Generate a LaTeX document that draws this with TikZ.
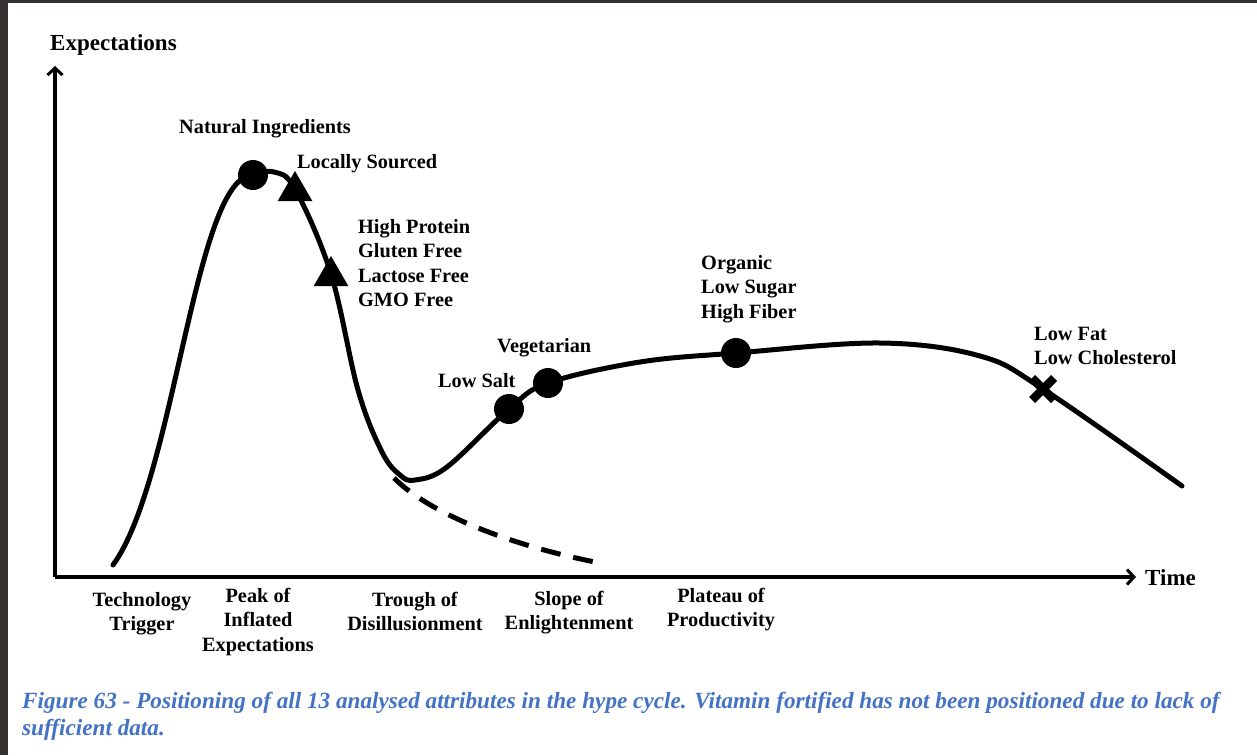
\documentclass[tikz,border=0pt]{standalone}
\usepackage{fontspec}
\setmainfont{Liberation Serif}
\usetikzlibrary{arrows.meta,shapes.geometric}
\definecolor{captionblue}{RGB}{68,114,196}
\definecolor{edge}{RGB}{52,48,48}
\tikzset{
  axisline/.style={line width=3.5pt, -{Straight Barb[length=7pt,width=15pt,line width=3pt]}},
  hype/.style={line width=5pt, line cap=round, line join=round},
  fallback/.style={line width=5pt, dash pattern=on 20pt off 13pt},
  dotmark/.style={circle, fill=black, minimum size=30pt, inner sep=0pt},
  trimark/.style={regular polygon, regular polygon sides=3, fill=black, minimum size=40pt, inner sep=0pt},
  lbl/.style={font=\fontsize{20.3}{24.5}\selectfont\bfseries, inner sep=0pt},
  axlbl/.style={font=\fontsize{23}{27}\selectfont\bfseries, inner sep=0pt},
  phase/.style={lbl, align=center, anchor=base},
  caption/.style={font=\fontsize{23.2}{27}\selectfont\bfseries\itshape, text=captionblue, inner sep=0pt, align=left, anchor=base west}
}
\begin{document}
\begin{tikzpicture}[x=1pt, y=-1pt]
% page and frame edges
\fill[white] (0,0) rectangle (1257,755);
\useasboundingbox (0,0) rectangle (1257,755);
\fill[edge] (0,0) rectangle (8,755);
\fill[edge] (0,0) rectangle (1257,3);

% axes
\coordinate (origin) at (55,577);
\coordinate (ytip) at (55,66);
\coordinate (xtip) at (1136,577);
\draw[axisline] (origin) -- (ytip);
\draw[axisline] (origin) -- (xtip);
\node[axlbl, anchor=base west] (ylabel) at (50,50) {Expectations};
\node[axlbl, anchor=base west] (xlabel) at (1145,585) {Time};

% hype curve: steep rise to the peak, then a smooth run through the rest
\draw[hype] (113,565) .. controls (175,480) and (195,175) .. (253,175)
  plot[smooth, tension=0.6] coordinates {
  (253,175) (274,172) (295,189) (331,274) (358,390)
  (382,452) (400,475) (415,480) (447,467) (509,409) (548,383) (640,362)
  (736,353) (880,343) (980,356) (1043,389) (1182,486)};

% failure branch out of the trough
\coordinate (split) at (394,478);
\coordinate (fallend) at (595,562);
\draw[fallback] (split) .. controls (430,514) and (510,545) .. (fallend);

% positioned attributes
\node[dotmark] (natural) at (253,175) {};
\node[trimark] (local) at (295,191) {};
\node[trimark] (protein) at (331,276) {};
\node[dotmark] (salt) at (509,409) {};
\node[dotmark] (veg) at (548,383) {};
\node[dotmark] (organic) at (736,353) {};
\coordinate (lowfat) at (1043,389);
\draw[line width=8.5pt] ([shift={(-11,-11)}]lowfat) -- ([shift={(11,11)}]lowfat);
\draw[line width=8.5pt] ([shift={(-11,11)}]lowfat) -- ([shift={(11,-11)}]lowfat);

% attribute labels (multi-line nodes sit on the baseline of their last line)
\node[lbl, anchor=base] (tnatural) at (265,133) {Natural Ingredients};
\node[lbl, anchor=base west] (tlocal) at (297,168) {Locally Sourced};
\node[lbl, anchor=base west, align=left] (tprotein) at (358,306.5) {High Protein\\Gluten Free\\Lactose Free\\GMO Free};
\node[lbl, anchor=base west] (tveg) at (497,352) {Vegetarian};
\node[lbl, anchor=base west] (tsalt) at (438,387) {Low Salt};
\node[lbl, anchor=base west, align=left] (torganic) at (701,318) {Organic\\Low Sugar\\High Fiber};
\node[lbl, anchor=base west, align=left] (tlowfat) at (1034,364.5) {Low Fat\\Low Cholesterol};

% phase names
\node[phase] (ptrigger) at (142,630.5) {Technology\\Trigger};
\node[phase] (ppeak) at (258,651) {Peak of\\Inflated\\Expectations};
\node[phase] (ptrough) at (415,630.5) {Trough of\\Disillusionment};
\node[phase] (pslope) at (569,629.5) {Slope of\\Enlightenment};
\node[phase] (pplateau) at (721,626.5) {Plateau of\\Productivity};

% figure caption
\node[caption] (cap) at (22,735) {Figure 63 - Positioning of all 13 analysed attributes in the hype cycle. Vitamin fortified has not been positioned due to lack of\\sufficient data.};
\end{tikzpicture}
\end{document}
